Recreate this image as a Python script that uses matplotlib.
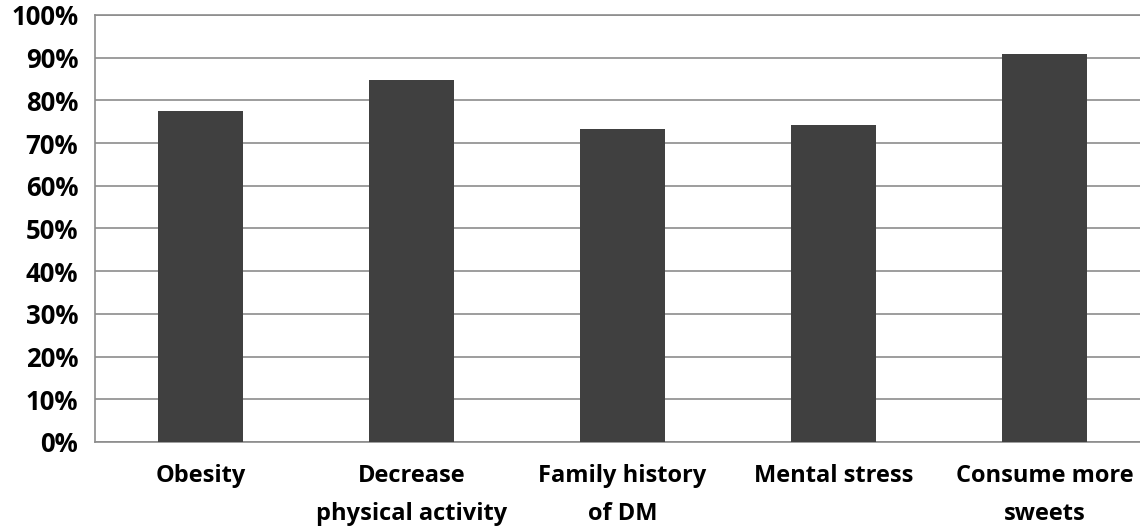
import matplotlib
matplotlib.use("Agg")
import matplotlib.pyplot as plt
from matplotlib.ticker import FuncFormatter, MultipleLocator

categories = ["Obesity", "Decrease\nphysical activity", "Family history\nof DM", "Mental stress", "Consume more\nsweets"]
values = [77.5, 84.8, 73.3, 74.2, 90.9]

plt.rcParams['font.family'] = ['Open Sans', 'DejaVu Sans']

fig = plt.figure(figsize=(11.4, 5.29), dpi=100)
ax = fig.add_axes([95/1140, 1-442/529, 1055/1140, 427/529])

x = list(range(len(categories)))
ax.bar(x, values, width=0.40, color="#404040", zorder=3)
ax.set_xlim(-0.5, len(categories)-0.5)
ax.set_ylim(0, 100)
ax.yaxis.set_major_locator(MultipleLocator(10))
ax.yaxis.set_major_formatter(FuncFormatter(lambda v, p: f"{int(round(v))}%"))
ax.grid(axis="y", color="#8c8c8c", linewidth=1.2, zorder=0)
for s in ax.spines.values():
    s.set_color("#8c8c8c")
    s.set_linewidth(1.2)
ax.tick_params(axis="y", length=0, labelsize=18.5, pad=12)
ax.set_xticks(x)
ax.set_xticklabels(categories, fontweight="bold", linespacing=1.75)
ax.tick_params(axis="x", length=0, labelsize=17, pad=16)
for lab in ax.get_yticklabels():
    lab.set_fontweight("bold")

fig.savefig("out.png", dpi=100, facecolor="white")
